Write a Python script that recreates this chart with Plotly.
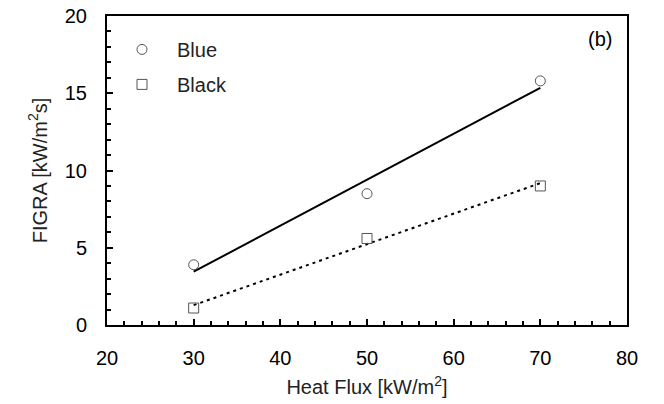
import numpy as np
import plotly.graph_objects as go

heat_flux = [30, 50, 70]
blue_figra = [3.9, 8.5, 15.8]
black_figra = [1.1, 5.6, 9.0]
series_names = ["Blue", "Black"]

FONT = "Liberation Sans, Arial, sans-serif"
FS = 20
fig = go.Figure()

for i, (name, vals, sym, dash) in enumerate([(series_names[0], blue_figra, "circle-open", "solid"),
                                             (series_names[1], black_figra, "square-open", "3px,4px")]):
    k, b = np.polyfit(heat_flux, vals, 1)
    xs = [heat_flux[0], heat_flux[-1]]
    fig.add_trace(go.Scatter(x=xs, y=[k * x + b for x in xs], mode="lines",
                             line=dict(color="black", width=2, dash=dash),
                             showlegend=False, hoverinfo="skip"))
    fig.add_trace(go.Scatter(x=heat_flux, y=vals, mode="markers", name=name,
                             legendgroup="g%d" % i,
                             marker=dict(symbol=sym, size=10, color="#555555",
                                         line=dict(width=1, color="#555555"))))

axis_common = dict(showline=True, linecolor="black", linewidth=2, mirror=True,
                   showgrid=False, zeroline=False, ticks="inside", ticklen=6,
                   tickwidth=1.5, tickcolor="black", automargin=False,
                   ticklabeloverflow="allow",
                   tickfont=dict(family=FONT, size=FS, color="black"))

fig.update_xaxes(range=[20, 80], dtick=10, ticklabelstandoff=14,
                 minor=dict(dtick=2, ticks="inside", ticklen=4, tickcolor="black", tickwidth=1.5),
                 title=dict(text="Heat Flux [kW/m<sup>2</sup>]", font=dict(family=FONT, size=FS, color="#222"),
                            standoff=12),
                 **axis_common)
fig.update_yaxes(range=[0, 20], dtick=5, ticklabelstandoff=14,
                 minor=dict(dtick=1, ticks="inside", ticklen=4, tickcolor="black", tickwidth=1.5),
                 title=dict(text="FIGRA [kW/m<sup>2</sup>s]", font=dict(family=FONT, size=FS, color="#222"),
                            standoff=12),
                 **axis_common)

fig.add_annotation(x=0.975, y=0.925, xref="paper", yref="paper", text="(b)", showarrow=False,
                   xanchor="right", yanchor="middle",
                   font=dict(family=FONT, size=FS, color="black"))

fig.update_layout(width=664, height=404, margin=dict(l=107, r=37, t=16, b=79),
                  paper_bgcolor="white", plot_bgcolor="white",
                  font=dict(family=FONT, size=FS, color="black"),
                  legend=dict(x=0.0, y=0.955, xanchor="left", yanchor="top",
                              bgcolor="rgba(0,0,0,0)", borderwidth=0, itemwidth=60,
                              font=dict(family=FONT, size=FS, color="#222"),
                              tracegroupgap=6))

fig.write_html("out.html", config={"displayModeBar": False},
               post_script="document.body.style.margin='0';")
